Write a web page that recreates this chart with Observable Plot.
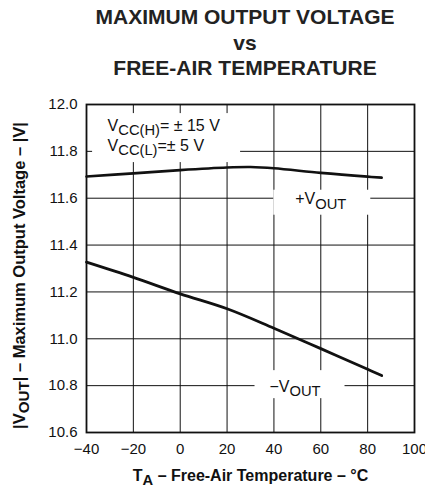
<!DOCTYPE html>
<html><head><meta charset="utf-8">
<script src="https://cdn.jsdelivr.net/npm/d3@7"></script>
<script src="https://cdn.jsdelivr.net/npm/@observablehq/plot@0.6"></script>
<style>
body{margin:0;background:#fff;font-family:"Liberation Sans",Arial,sans-serif;color:#111;}
#title{width:425px;box-sizing:border-box;padding-left:65px;padding-top:4px;height:81px;text-align:center;font-weight:bold;font-size:21px;line-height:25.5px;color:#222;}
#chart svg{display:block;}
</style></head><body>
<div id="title">MAXIMUM OUTPUT VOLTAGE<br>vs<br>FREE-AIR TEMPERATURE</div>
<div id="chart"></div>
<script>
// ---- data ----
const tempPos = [-40, -20, 0, 20, 30, 40, 60, 80, 86];
const vPos    = [11.693, 11.706, 11.720, 11.731, 11.733, 11.728, 11.708, 11.692, 11.688];
const tempNeg = [-40, -20, 0, 20, 40, 60, 80, 86];
const vNeg    = [11.327, 11.262, 11.192, 11.128, 11.045, 10.958, 10.870, 10.843];
const xTicks = [-40, -20, 0, 20, 40, 60, 80, 100];
const yTicks = [10.6, 10.8, 11.0, 11.2, 11.4, 11.6, 11.8, 12.0];
const curveNames = ["+V_{OUT}", "−V_{OUT}"];
const curveLabelTemp = [60, 49];
const curveLabelVolt = [11.6, 10.8];
const noteText = ["V_{CC(H)}= ± 15 V", "V_{CC(L)}=± 5 V"];
const noteTemp = [-31, -31];
const noteVolt = [11.91, 11.825];
const xLabel = "T_{A} – Free-Air Temperature – °C";
const yLabel = "|V_{OUT}| – Maximum Output Voltage – |V|";

const posData = tempPos.map((t, i) => ({t, v: vPos[i]}));
const negData = tempNeg.map((t, i) => ({t, v: vNeg[i]}));
const curveLabels = curveNames.map((s, i) => ({s, t: curveLabelTemp[i], v: curveLabelVolt[i]}));
const notes = noteText.map((s, i) => ({s, t: noteTemp[i], v: noteVolt[i]}));
const fmtX = d => d < 0 ? "−" + Math.abs(d) : String(d);

const ink = "#111";
const plot = Plot.plot({
  width: 425, height: 406,
  marginTop: 23, marginBottom: 55, marginLeft: 86, marginRight: 11,
  style: {fontFamily: "'Liberation Sans', Arial, sans-serif", fontSize: "15px", color: ink, background: "#fff"},
  x: {domain: [-40, 100]},
  y: {domain: [10.6, 12.0]},
  marks: [
    Plot.gridX(xTicks, {stroke: ink, strokeOpacity: 1, strokeWidth: 1}),
    Plot.gridY(yTicks, {stroke: ink, strokeOpacity: 1, strokeWidth: 1}),
    // white masks behind annotations
    Plot.rect([notes[0]], {x1: "t", x2: "t", y1: "v", y2: "v", fill: "#fff",
      insetLeft: -15, insetRight: -133, insetTop: -12, insetBottom: -37}),
    Plot.rect([curveLabels[0]], {x1: "t", x2: "t", y1: "v", y2: "v", fill: "#fff",
      insetLeft: -47, insetRight: -50, insetTop: -8, insetBottom: -17}),
    Plot.rect([curveLabels[1]], {x1: "t", x2: "t", y1: "v", y2: "v", fill: "#fff",
      insetLeft: -40, insetRight: -50, insetTop: -15, insetBottom: -13}),
    Plot.axisX(xTicks, {tickSize: 0, tickPadding: 11, tickFormat: fmtX, label: null}),
    Plot.axisY(yTicks, {tickSize: 0, tickPadding: 9, tickFormat: d => d.toFixed(1), label: null}),
    Plot.line(posData, {x: "t", y: "v", stroke: ink, strokeWidth: 2.6, curve: "catmull-rom"}),
    Plot.line(negData, {x: "t", y: "v", stroke: ink, strokeWidth: 2.8, curve: "catmull-rom"}),
    Plot.text(notes, {x: "t", y: "v", text: "s", textAnchor: "start", fontSize: 16, fill: ink}),
    Plot.text(curveLabels, {x: "t", y: "v", text: "s", fontSize: 16, fill: ink, dy: 1}),
    Plot.text([xLabel], {frameAnchor: "bottom", text: d => d, textAnchor: "middle", lineAnchor: "middle",
      dy: 43, fontWeight: "bold", fontSize: 16, fill: ink}),
    Plot.text([yLabel], {frameAnchor: "left", text: d => d, textAnchor: "middle", lineAnchor: "middle",
      rotate: -90, dx: -67, dy: 7, fontWeight: "bold", fontSize: 16.5, fill: ink}),
    Plot.frame({stroke: ink, strokeWidth: 1.8})
  ]
});

// subscripts: turn "_{...}" into lowered tspans
plot.querySelectorAll("text").forEach(t => {
  const s = t.textContent;
  if (!s.includes("_{") || t.children.length) return;
  const parts = s.split(/_\{([^}]*)\}/);
  t.textContent = "";
  let shifted = false;
  parts.forEach((p, i) => {
    if (!p) { return; }
    const ts = document.createElementNS("http://www.w3.org/2000/svg", "tspan");
    ts.textContent = p;
    if (i % 2 === 1) {
      ts.setAttribute("dy", "0.3em");
      ts.setAttribute("font-size", "0.92em");
      shifted = true;
    } else if (shifted) {
      ts.setAttribute("dy", "-0.276em");
      shifted = false;
    }
    t.appendChild(ts);
  });
});
document.getElementById("chart").appendChild(plot);
</script>
</body></html>
